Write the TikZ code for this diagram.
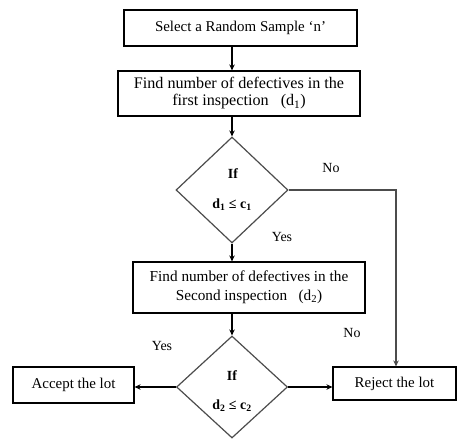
\documentclass[tikz,border=0pt]{standalone}
\usepackage{fontspec}
\setmainfont{Liberation Serif}
\usetikzlibrary{shapes.geometric,arrows.meta}
\begin{document}
\begin{tikzpicture}[x=1bp,y=-1bp,
  box/.style={draw=black, line width=1.2bp, inner sep=0pt, align=center, font=\fontsize{15}{17}\selectfont},
  dia/.style={draw=black!70, line width=1.2bp, diamond, inner sep=0pt},
  dtext/.style={font=\fontsize{14}{16}\selectfont\bfseries, inner sep=0pt},
  lbl/.style={font=\fontsize{14}{16}\selectfont, inner sep=0pt},
  arr/.style={line width=1.2bp, -{Stealth[length=6bp,width=5.5bp]}},
  gline/.style={draw=black!70, line width=1.2bp}]
\useasboundingbox (0,0) rectangle (457,441);
\node[box, minimum width=233bp, minimum height=36bp] (b1) at (240.5,28) {Select a Random Sample ‘n’};
\node[box, minimum width=242bp, minimum height=45bp, font=\fontsize{16.2}{17}\selectfont] (b2) at (239,93.5) {Find number of defectives in the\\first inspection\ \ \ (d\textsubscript{1})};
\node[dia, minimum width=112bp, minimum height=106bp] (d1) at (232,190) {};
\node[dtext] (d1a) at (233,174) {If};
\node[dtext] (d1b) at (232,205) {d\textsubscript{1} ≤ c\textsubscript{1}};
\node[box, minimum width=232bp, minimum height=51bp, font=\fontsize{15.3}{19}\selectfont] (b3) at (249,287.5) {Find number of defectives in the\\Second inspection\ \ \ (d\textsubscript{2})};
\node[dia, minimum width=111bp, minimum height=102bp] (d2) at (232,387) {};
\node[dtext] (d2a) at (232,376) {If};
\node[dtext] (d2b) at (232,406) {d\textsubscript{2} ≤ c\textsubscript{2}};
\node[box, minimum width=121bp, minimum height=36bp] (acc) at (73.5,385) {Accept the lot};
\node[box, minimum width=123bp, minimum height=33bp] (rej) at (394.5,383.5) {Reject the lot};
\coordinate (turn) at (396,190);
\draw[arr] (b1.south -| d1.north) -- (b2.north -| d1.north);
\draw[arr] (b2.south -| d1.north) -- (d1.north);
\draw[arr] (d1.south) -- (b3.north -| d1.south);
\draw[arr] (b3.south -| d2.north) -- (d2.north);
\draw[gline, arr] (d1.east) -- (turn) -- (turn |- rej.north);
\draw[arr] (d2.west) -- (d2.west -| acc.east);
\draw[arr] (d2.east) -- (d2.east -| rej.west);
\node[lbl] (no1) at (331,168) {No};
\node[lbl] (yes1) at (282,237) {Yes};
\node[lbl] (yes2) at (162,346) {Yes};
\node[lbl] (no2) at (352,333) {No};
\end{tikzpicture}
\end{document}
